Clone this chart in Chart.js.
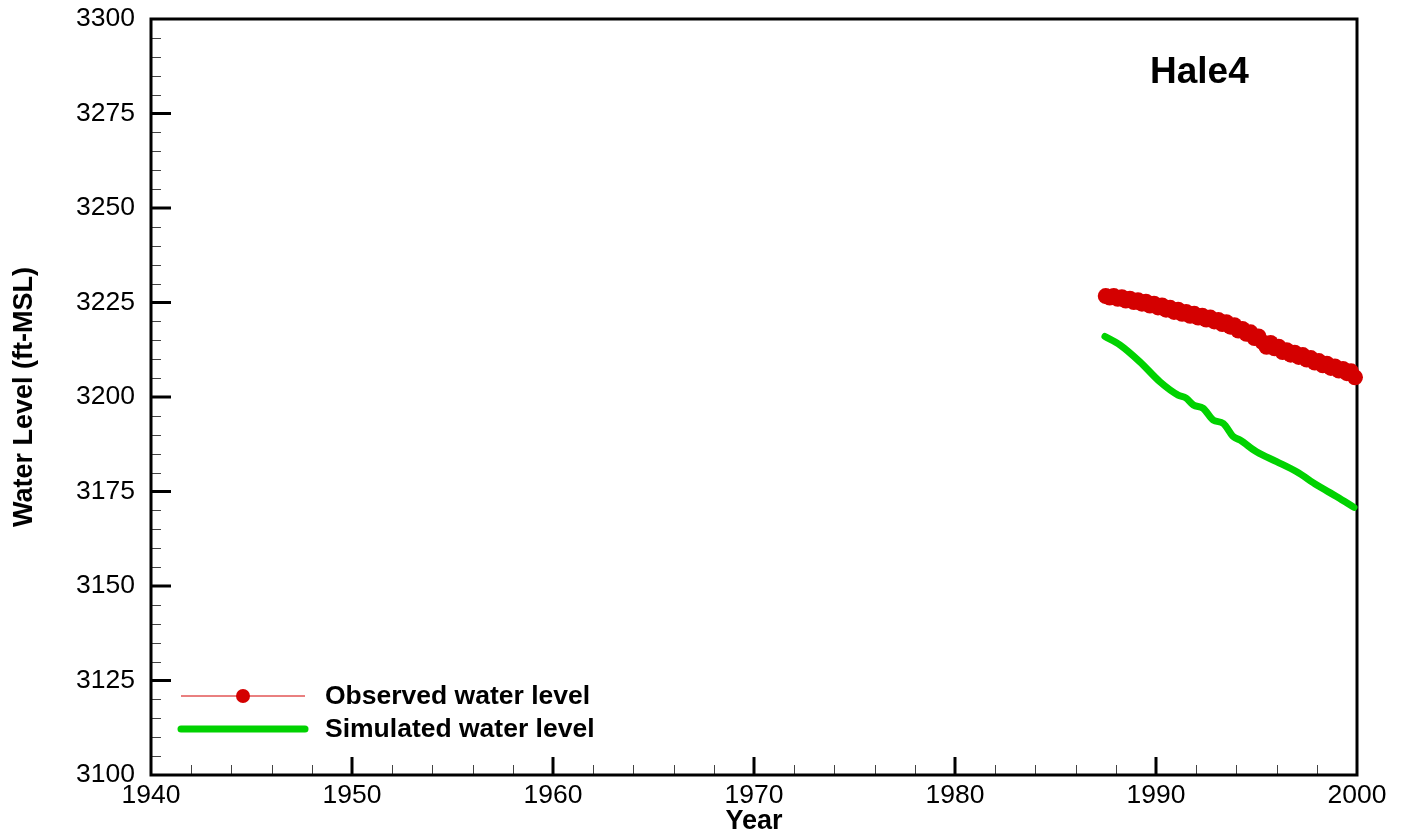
<!DOCTYPE html>
<html>
<head>
<meta charset="utf-8">
<script src="https://cdn.jsdelivr.net/npm/chart.js@4.4.1/dist/chart.umd.min.js"></script>
<style>
  html, body { margin: 0; padding: 0; background: #fff; }
  #wrap { width: 1407px; height: 839px; }
</style>
</head>
<body>
<div id="wrap"><canvas id="chart" width="1407" height="839"></canvas></div>
<script>
// values
const obsYears = [1987.5, 1987.7, 1987.9, 1988.1, 1988.3, 1988.5, 1988.7, 1988.9, 1989.1, 1989.3,
  1989.5, 1989.7, 1989.9, 1990.1, 1990.3, 1990.5, 1990.7, 1990.9, 1991.1, 1991.3,
  1991.5, 1991.7, 1991.9, 1992.1, 1992.3, 1992.5, 1992.7, 1992.9, 1993.1, 1993.3,
  1993.5, 1993.7, 1993.9, 1994.1, 1994.3, 1994.5, 1994.7, 1994.9, 1995.1, 1995.3,
  1995.5, 1995.7, 1995.9, 1996.1, 1996.3, 1996.5, 1996.7, 1996.9, 1997.1, 1997.3,
  1997.5, 1997.7, 1997.9, 1998.1, 1998.3, 1998.5, 1998.7, 1998.9, 1999.1, 1999.3,
  1999.5, 1999.7, 1999.9];
const obsLevels = [3226.7, 3226.3, 3226.7, 3226.0, 3226.4, 3225.5, 3226.0, 3225.1, 3225.6, 3224.7,
  3225.2, 3224.2, 3224.7, 3223.7, 3224.2, 3223.1, 3223.6, 3222.5, 3223.1, 3222.0,
  3222.5, 3221.5, 3222.0, 3221.0, 3221.5, 3220.5, 3221.0, 3220.0, 3220.4, 3219.3,
  3219.8, 3218.6, 3219.0, 3217.6, 3218.0, 3216.7, 3217.1, 3215.6, 3216.0, 3214.5,
  3213.3, 3214.3, 3212.9, 3213.3, 3211.9, 3212.4, 3211.2, 3211.7, 3210.6, 3211.1,
  3209.9, 3210.3, 3209.1, 3209.5, 3208.4, 3208.8, 3207.7, 3208.1, 3207.0, 3207.4,
  3206.3, 3206.8, 3205.2];

const simYears = [1987.46, 1988.2, 1989.2, 1990.2, 1991.1, 1991.5, 1991.86, 1992.35, 1992.85,
  1993.35, 1993.85, 1994.18, 1995.0, 1996.0, 1997.0, 1998.0, 1999.0, 1999.85];
const simLevels = [3216.0, 3213.8, 3209.3, 3204.0, 3200.5, 3199.7, 3197.9, 3197.0, 3193.9,
  3193.0, 3189.5, 3188.6, 3185.5, 3182.9, 3180.2, 3176.7, 3173.6, 3170.8];

const xTicks = [1940, 1950, 1960, 1970, 1980, 1990, 2000];
const yTicks = [3100, 3125, 3150, 3175, 3200, 3225, 3250, 3275, 3300];

const wellName = 'Hale4';
const seriesNames = ['Observed water level', 'Simulated water level'];

const FONT = "'Liberation Sans', Arial, Helvetica, sans-serif";
const RED = '#d40000';
const GREEN = '#00d200';

function pts(xs, ys) {
  return xs.map((x, i) => ({ x: x, y: ys[i] }));
}

// frame + inward ticks, drawn under the data
const framePlugin = {
  id: 'frame',
  beforeDatasetsDraw(chart) {
    const c = chart.ctx;
    const a = chart.chartArea;
    const xs = chart.scales.x, ys = chart.scales.y;
    c.save();
    // minor ticks
    c.lineWidth = 1;
    c.strokeStyle = '#444';
    for (let v = xTicks[0]; v <= xTicks[xTicks.length - 1]; v += 2) {
      if (v % 10 === 0) continue;
      const px = Math.round(xs.getPixelForValue(v)) + 0.5;
      c.beginPath(); c.moveTo(px, a.bottom); c.lineTo(px, a.bottom - 10); c.stroke();
    }
    for (let v = yTicks[0]; v <= yTicks[yTicks.length - 1]; v += 5) {
      if (v % 25 === 0) continue;
      const py = Math.round(ys.getPixelForValue(v)) + 0.5;
      c.beginPath(); c.moveTo(a.left, py); c.lineTo(a.left + 10, py); c.stroke();
    }
    // major ticks
    c.lineWidth = 3;
    c.strokeStyle = '#000';
    xTicks.slice(1, -1).forEach(v => {
      const px = xs.getPixelForValue(v);
      c.beginPath(); c.moveTo(px, a.bottom); c.lineTo(px, a.bottom - 18); c.stroke();
    });
    yTicks.slice(1, -1).forEach(v => {
      const py = ys.getPixelForValue(v);
      c.beginPath(); c.moveTo(a.left, py); c.lineTo(a.left + 20, py); c.stroke();
    });
    c.strokeRect(a.left, a.top, a.right - a.left, a.bottom - a.top);
    c.restore();
  },
  afterDraw(chart) {
    const c = chart.ctx;
    const a = chart.chartArea;
    c.save();
    // well name
    c.fillStyle = '#000';
    c.font = 'bold 37px ' + FONT;
    c.textBaseline = 'alphabetic';
    c.textAlign = 'left';
    c.fillText(wellName, 1150, 83);

    // legend
    const ds = chart.data.datasets;
    const lx0 = a.left + 30, lx1 = a.left + 154;
    const rows = [696, 729];
    c.lineCap = 'butt';
    c.strokeStyle = ds[0].borderColor;
    c.lineWidth = ds[0].borderWidth;
    c.beginPath(); c.moveTo(lx0, rows[0]); c.lineTo(lx1, rows[0]); c.stroke();
    c.fillStyle = ds[0].pointBackgroundColor;
    c.beginPath(); c.arc((lx0 + lx1) / 2, rows[0], 7, 0, Math.PI * 2); c.fill();
    c.lineCap = 'round';
    c.strokeStyle = ds[1].borderColor;
    c.lineWidth = ds[1].borderWidth;
    c.beginPath(); c.moveTo(lx0, rows[1]); c.lineTo(lx1, rows[1]); c.stroke();

    c.fillStyle = '#000';
    c.font = 'bold 26.5px ' + FONT;
    c.textBaseline = 'middle';
    c.fillText(ds[0].label, 325, rows[0] + 1);
    c.fillText(ds[1].label, 325, rows[1] + 1);
    c.restore();
  }
};

new Chart(document.getElementById('chart'), {
  type: 'line',
  data: {
    datasets: [
      {
        label: seriesNames[0],
        data: pts(obsYears, obsLevels),
        borderColor: RED,
        borderWidth: 1,
        pointBackgroundColor: RED,
        pointBorderColor: RED,
        pointBorderWidth: 0,
        pointRadius: 8,
        clip: false,
        order: 1
      },
      {
        label: seriesNames[1],
        data: pts(simYears, simLevels),
        borderColor: GREEN,
        borderWidth: 7,
        borderCapStyle: 'round',
        borderJoinStyle: 'round',
        cubicInterpolationMode: 'monotone',
        pointRadius: 0,
        clip: false,
        order: 2
      }
    ]
  },
  options: {
    responsive: false,
    devicePixelRatio: 1,
    animation: false,
    events: [],
    layout: { padding: { top: 19, right: 50, left: 0, bottom: 0 } },
    plugins: { legend: { display: false }, tooltip: { enabled: false } },
    scales: {
      x: {
        type: 'linear',
        min: xTicks[0],
        max: xTicks[xTicks.length - 1],
        afterFit(s) { s.height = 64; s.paddingLeft = 0; s.paddingRight = 0; },
        afterBuildTicks(s) { s.ticks = xTicks.map(v => ({ value: v })); },
        grid: { display: false, drawTicks: false },
        border: { display: false },
        ticks: {
          padding: 5,
          maxRotation: 0,
          color: '#000',
          font: { family: FONT, size: 26.5 },
          callback: v => String(v)
        },
        title: {
          display: true,
          text: 'Year',
          color: '#000',
          font: { family: FONT, size: 27, weight: 'bold' },
          padding: { top: 0, bottom: 1 }
        }
      },
      y: {
        min: yTicks[0],
        max: yTicks[yTicks.length - 1],
        afterFit(s) { s.width = 151; s.paddingTop = 0; s.paddingBottom = 0; },
        afterBuildTicks(s) { s.ticks = yTicks.map(v => ({ value: v })); },
        grid: { display: false, drawTicks: false },
        border: { display: false },
        ticks: {
          padding: 16,
          color: '#000',
          font: { family: FONT, size: 26.5 },
          callback: v => String(v)
        },
        title: {
          display: true,
          text: 'Water Level (ft-MSL)',
          color: '#000',
          font: { family: FONT, size: 27, weight: 'bold' },
          padding: { top: 8, bottom: 0 }
        }
      }
    }
  },
  plugins: [framePlugin]
});
</script>
</body>
</html>
